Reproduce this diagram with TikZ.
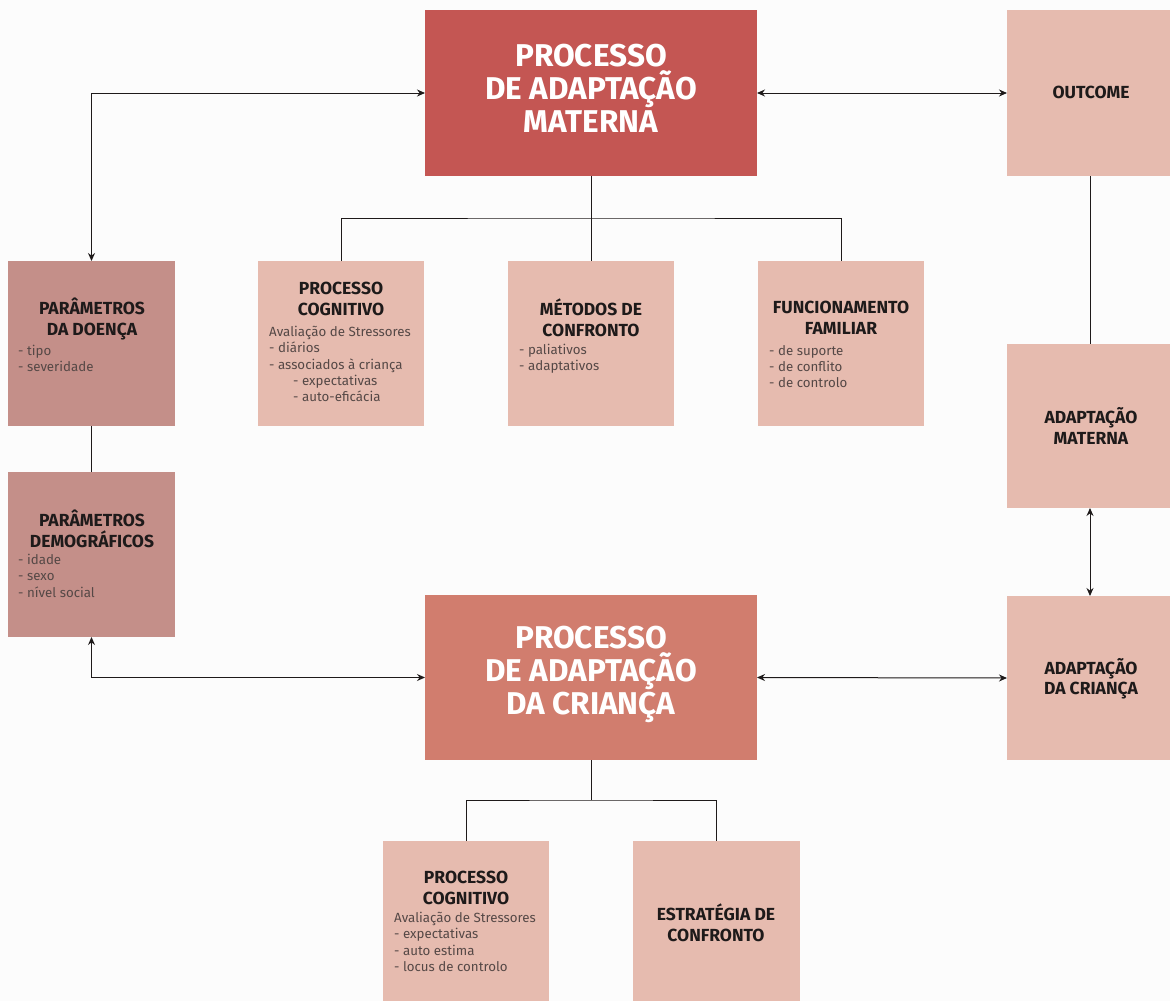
\documentclass[tikz,border=0pt]{standalone}
\usepackage{fontspec}
\setmainfont{Fira Sans}
\usetikzlibrary{arrows.meta}
\definecolor{mainA}{RGB}{196,86,83}
\definecolor{mainB}{RGB}{209,125,110}
\definecolor{darkbox}{RGB}{196,143,137}
\definecolor{lightbox}{RGB}{230,187,175}
\definecolor{ink}{RGB}{30,26,26}
\definecolor{grayink}{RGB}{85,72,70}
\definecolor{bg}{RGB}{252,252,252}
\tikzset{
 box/.style={inner sep=0pt, outer sep=0pt, minimum width=166pt, minimum height=165pt},
 ttl/.style={font=\fontsize{17.5}{20.5}\selectfont\bfseries, text=ink, align=center, inner sep=0pt},
 bigttl/.style={font=\fontsize{31.5}{33}\selectfont\bfseries, text=white, align=center, inner sep=0pt},
 itm/.style={font=\fontsize{13.3}{16.3}\selectfont, text=grayink, align=left, anchor=north west, inner sep=0pt},
 link/.style={draw=ink, line width=1pt},
 darr/.style={link, {Stealth[length=8pt,width=7pt]}-{Stealth[length=8pt,width=7pt]}},
}
\begin{document}
\begin{tikzpicture}[x=1pt,y=-1pt]
\fill[bg] (0,0) rectangle (1170,1001);
\useasboundingbox (0,0) rectangle (1170,1001);
\begin{scope}
\clip (0,0) rectangle (1170,1001);
% boxes
\node[box, fill=mainA, minimum width=332pt, minimum height=166pt] (topmain) at (591,93) {};
\node[box, fill=lightbox, minimum height=166pt] (outcome) at (1090,93) {};
\node[box, fill=darkbox, minimum width=167pt] (doenca) at (91.5,343.5) {};
\node[box, fill=lightbox] (pc) at (341,343.5) {};
\node[box, fill=lightbox] (metodos) at (591,343.5) {};
\node[box, fill=lightbox] (func) at (841,343.5) {};
\node[box, fill=lightbox, minimum height=164pt] (adaptmat) at (1090,426) {};
\node[box, fill=darkbox, minimum width=167pt] (demog) at (91.5,554.5) {};
\node[box, fill=mainB, minimum width=332pt] (botmain) at (591,677.5) {};
\node[box, fill=lightbox, minimum height=164pt] (adaptcri) at (1090,678) {};
\node[box, fill=lightbox] (pc2) at (466,923.5) {};
\node[box, fill=lightbox, minimum width=167pt] (estr) at (716.5,923.5) {};
\end{scope}
% titles
\node[bigttl] (t1) at (591,88) {PROCESSO\\DE ADAPTAÇÃO\\MATERNA};
\node[bigttl] (t2) at (591,674) {PROCESSO\\DE ADAPTAÇÃO\\DA CRIANÇA};
\node[ttl] (t3) at (1091,92) {OUTCOME};
\node[ttl] (t4) at (1091,426) {ADAPTAÇÃO\\MATERNA};
\node[ttl] (t5) at (1091,679) {ADAPTAÇÃO\\DA CRIANÇA};
\node[ttl] (t6) at (92,319) {PARÂMETROS\\DA DOENÇA};
\node[ttl] (t7) at (341,299) {PROCESSO\\COGNITIVO};
\node[ttl] (t8) at (591,318) {MÉTODOS DE\\CONFRONTO};
\node[ttl] (t9) at (841,318) {FUNCIONAMENTO\\FAMILIAR};
\node[ttl] (t10) at (92,529) {PARÂMETROS\\DEMOGRÁFICOS};
\node[ttl] (t11) at (466,888) {PROCESSO\\COGNITIVO};
\node[ttl] (t12) at (716,923) {ESTRATÉGIA DE\\CONFRONTO};
% items
\node[itm] (i6) at (18,345) {- tipo\\- severidade};
\node[itm] (i7) at (269,326) {Avaliação de Stressores\\- diários\\- associados à criança\\\hspace*{24pt}- expectativas\\\hspace*{24pt}- auto-eficácia};
\node[itm] (i8) at (519,344) {- paliativos\\- adaptativos};
\node[itm] (i9) at (769,345) {- de suporte\\- de conflito\\- de controlo};
\node[itm] (i10) at (18,554) {- idade\\- sexo\\- nível social};
\node[itm] (i11) at (394,912) {Avaliação de Stressores\\- expectativas\\- auto estima\\- locus de controlo};
% connectors
\coordinate (j1) at (591,218);
\coordinate (j2) at (591,800);
\draw[darr] (doenca.north) |- (topmain.west);
\draw[darr] (topmain.east) -- (outcome.west);
\draw[link] (topmain.south) -- (metodos.north);
\draw[link] (pc.north) |- (j1) -| (func.north);
\draw[link] (doenca.south) -- (demog.north);
\draw[link] (outcome.south) -- (adaptmat.north);
\draw[darr] (adaptmat.south) -- (adaptcri.north);
\draw[darr] (demog.south) |- (botmain.west);
\draw[darr] (botmain.east) -- (adaptcri.west);
\draw[link] (botmain.south) -- (j2);
\draw[link] (pc2.north) |- (j2) -| (estr.north);
\end{tikzpicture}
\end{document}
